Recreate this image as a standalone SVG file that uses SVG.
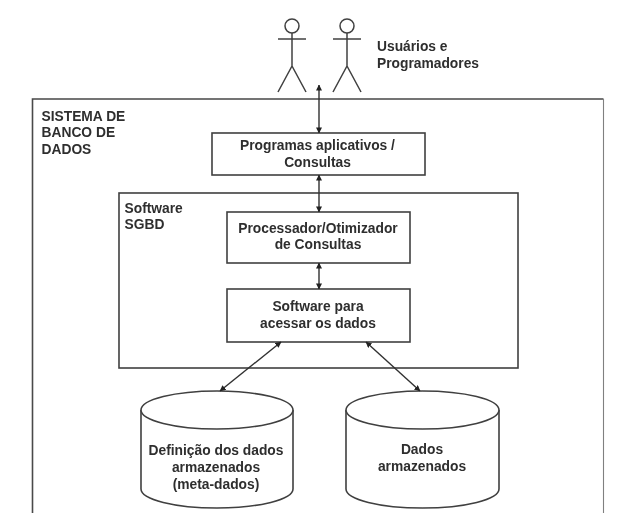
<svg xmlns="http://www.w3.org/2000/svg" width="623" height="525" viewBox="0 0 623 525">
  <style>
    .s { fill: none; stroke: #404040; stroke-width: 1.5; }
    .b { fill: #fff; stroke: #404040; stroke-width: 1.6; }
    .c { fill: none; stroke: #303030; stroke-width: 1.4; marker-start: url(#a); marker-end: url(#a); }
    text { font-family: "Liberation Sans", Arial, sans-serif; font-weight: bold; font-size: 13.800px; fill: #2e2e2e; }
    .m { text-anchor: middle; }
  </style>
  <defs>
    <marker id="a" viewBox="0 0 7 7" refX="6.500" refY="3.500" markerWidth="6" markerHeight="6" markerUnits="userSpaceOnUse" orient="auto-start-reverse">
      <path d="M0 0L7 3.500L0 7z" fill="#202020"/>
    </marker>
    <filter id="soft" x="0" y="0" width="100%" height="100%" filterUnits="userSpaceOnUse">
      <feGaussianBlur stdDeviation="0.4"/>
    </filter>
  </defs>
  <rect width="623" height="525" fill="#fff"/>
  <g filter="url(#soft)">
  <g id="sistema">
    <path d="M32.500 513V99H603.500" fill="none" stroke="#484848" stroke-width="1.600"/>
    <path d="M603.500 99V513" fill="none" stroke="#808080" stroke-width="1.100"/>
    <text x="41.500" y="120.500">SISTEMA DE</text>
    <text x="41.500" y="137">BANCO DE</text>
    <text x="41.500" y="154">DADOS</text>
  </g>
  <g id="sgbd">
    <rect class="b" x="119" y="193" width="399" height="175"/>
    <text x="124.500" y="212.500">Software</text>
    <text x="124.500" y="229">SGBD</text>
  </g>
  <g id="usuario1">
    <circle class="s" cx="292" cy="26" r="7"/>
    <path class="s" d="M278 39H306M292 33V66M278 92L292 66L306 92"/>
  </g>
  <g id="usuario2">
    <circle class="s" cx="347" cy="26" r="7"/>
    <path class="s" d="M333 39H361M347 33V66M333 92L347 66L361 92"/>
  </g>
  <g id="usuarios-label">
    <text x="377" y="51">Usuários e</text>
    <text x="377" y="68">Programadores</text>
  </g>
  <g id="programas">
    <rect class="b" x="212" y="133" width="213" height="42"/>
    <text class="m" x="317.500" y="150">Programas aplicativos /</text>
    <text class="m" x="317.500" y="167">Consultas</text>
  </g>
  <g id="processador">
    <rect class="b" x="227" y="212" width="183" height="51"/>
    <text class="m" x="318" y="232.500">Processador/Otimizador</text>
    <text class="m" x="318" y="249">de Consultas</text>
  </g>
  <g id="acesso">
    <rect class="b" x="227" y="289" width="183" height="53"/>
    <text class="m" x="318" y="311">Software para</text>
    <text class="m" x="318" y="327.500">acessar os dados</text>
  </g>
  <g id="meta-dados">
    <path class="b" d="M141 410V489C141 499.500 175 508 217 508S293 499.500 293 489V410"/>
    <ellipse class="b" cx="217" cy="410" rx="76" ry="19"/>
    <text class="m" x="216" y="455">Definição dos dados</text>
    <text class="m" x="216" y="472">armazenados</text>
    <text class="m" x="216" y="489">(meta-dados)</text>
  </g>
  <g id="dados">
    <path class="b" d="M346 410V489C346 499.500 380 508 422.500 508S499 499.500 499 489V410"/>
    <ellipse class="b" cx="422.500" cy="410" rx="76.500" ry="19"/>
    <text class="m" x="422" y="454">Dados</text>
    <text class="m" x="422" y="471">armazenados</text>
  </g>
  <g id="conectores">
    <path class="c" d="M319 85V133"/>
    <path class="c" d="M319 175V212"/>
    <path class="c" d="M319 263V289"/>
    <path class="c" d="M281 342L220 391"/>
    <path class="c" d="M366 342L420 391"/>
  </g>
  </g>
</svg>
